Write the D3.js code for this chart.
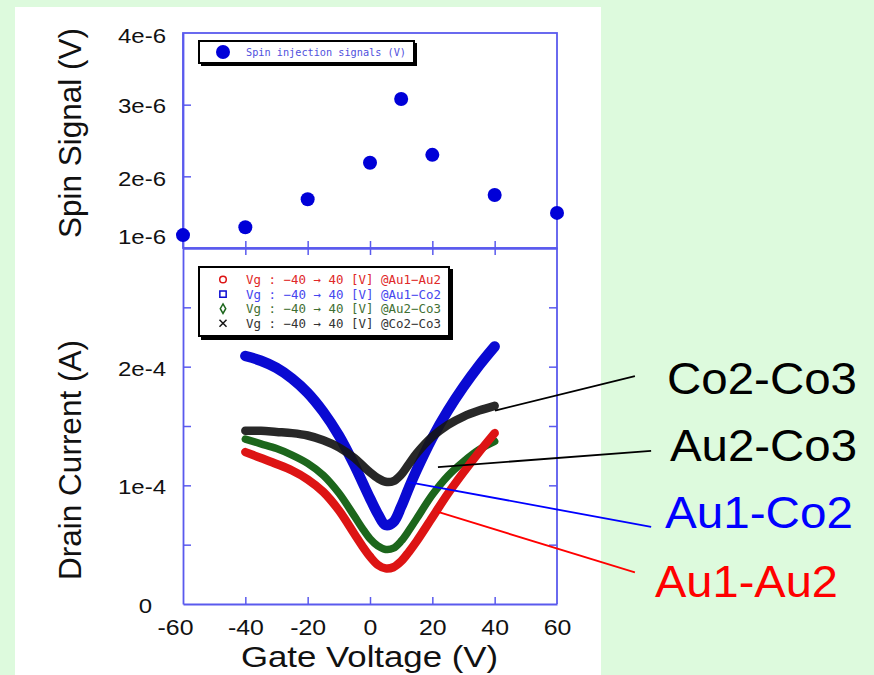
<!DOCTYPE html>
<html>
<head>
<meta charset="utf-8">
<script src="https://cdn.jsdelivr.net/npm/d3@7"></script>
<style>
  body { margin: 0; background: #ddfadd; }
  svg { display: block; }
</style>
</head>
<body>
<svg id="chart" width="874" height="675"></svg>
<script>
// ---- spin injection signal vs gate voltage ----
const spinVg = [-60, -40, -20, 0, 10, 20, 40, 60];
const spinSignal = [1.18e-6, 1.29e-6, 1.68e-6, 2.19e-6, 3.08e-6, 2.30e-6, 1.74e-6, 1.49e-6];

// ---- drain current sweeps, Vg from -40 to 40 V ----
const gateVoltage = [-40, -35, -30, -25, -20, -15, -10, -5, -2.5, 0, 2.5, 5, 7.5, 10, 12.5, 15, 20, 25, 30, 35, 40];
const currentAu1Au2 = [1.28e-4, 1.23e-4, 1.18e-4, 1.125e-4, 1.05e-4, 0.945e-4, 0.79e-4, 0.59e-4, 0.49e-4, 0.40e-4, 0.33e-4, 0.30e-4, 0.31e-4, 0.36e-4, 0.44e-4, 0.53e-4, 0.73e-4, 0.93e-4, 1.11e-4, 1.28e-4, 1.44e-4];
const currentAu1Co2 = [2.09e-4, 2.05e-4, 1.99e-4, 1.90e-4, 1.78e-4, 1.62e-4, 1.42e-4, 1.17e-4, 1.03e-4, 0.89e-4, 0.76e-4, 0.665e-4, 0.69e-4, 0.82e-4, 0.98e-4, 1.13e-4, 1.40e-4, 1.63e-4, 1.83e-4, 2.01e-4, 2.17e-4];
const currentAu2Co3 = [1.39e-4, 1.35e-4, 1.31e-4, 1.255e-4, 1.185e-4, 1.085e-4, 0.935e-4, 0.74e-4, 0.64e-4, 0.55e-4, 0.49e-4, 0.46e-4, 0.47e-4, 0.53e-4, 0.62e-4, 0.72e-4, 0.92e-4, 1.08e-4, 1.20e-4, 1.30e-4, 1.37e-4];
const currentCo2Co3 = [1.46e-4, 1.46e-4, 1.45e-4, 1.44e-4, 1.42e-4, 1.38e-4, 1.32e-4, 1.23e-4, 1.17e-4, 1.11e-4, 1.06e-4, 1.03e-4, 1.035e-4, 1.09e-4, 1.18e-4, 1.27e-4, 1.41e-4, 1.51e-4, 1.58e-4, 1.63e-4, 1.67e-4];

// ---- axis ticks ----
const gateTicks = [-60, -40, -20, 0, 20, 40, 60];
const spinTicks = [1e-6, 2e-6, 3e-6, 4e-6];
const spinTickLabels = ["1e-6", "2e-6", "3e-6", "4e-6"];
const currentTicks = [0, 0.5e-4, 1e-4, 1.5e-4, 2e-4, 2.5e-4];
const currentLabelled = [0, 1e-4, 2e-4];
const currentTickLabels = ["0", "1e-4", "2e-4"];

// ---- legend text and callout names ----
const spinLegend = "Spin injection signals (V)";
const sweepNames = ["Au1-Au2", "Au1-Co2", "Au2-Co3", "Co2-Co3"];
const sweepLegend = [
  "Vg : \u221240 \u2192 40 [V] @Au1\u2212Au2",
  "Vg : \u221240 \u2192 40 [V] @Au1\u2212Co2",
  "Vg : \u221240 \u2192 40 [V] @Au2\u2212Co3",
  "Vg : \u221240 \u2192 40 [V] @Co2\u2212Co3"
];
// callout anchor on each curve and where the leader line ends (Vg in V, current in A)
const calloutFrom = [[21.8, 0.776e-4], [11.9, 1.03e-4], [21.8, 1.154e-4], [40.1, 1.63e-4]];
const calloutTo   = [[85, 0.266e-4], [90.2, 0.65e-4], [90.2, 1.29e-4], [85, 1.92e-4]];

// ---- layout & style ----
const AXIS = "#5a5aee";
const FONT = "'Liberation Sans', Arial, sans-serif";
const MONO = "'DejaVu Sans Mono', monospace";
const plot = { left: 183, right: 557, top: 33, mid: 248, bottom: 604 };
const seriesStyle = [
  { color: "#dd1414", width: 8.5, legendText: "#e02828", symbol: d3.symbolCircle, size: 34 },
  { color: "#0a0ad2", width: 10.5, legendText: "#4646ee", symbol: d3.symbolSquare, size: 40 },
  { color: "#1c661c", width: 7.5, legendText: "#3f6f33", symbol: d3.symbolDiamond, size: 26 },
  { color: "#161616", width: 8.5, legendText: "#333333", symbol: d3.symbolTimes, size: 34 }
];
const drawOrder = [2, 0, 1, 3];
const labelStyle = [
  { x: 655, y: 597, w: 183, color: "#ff0000" },
  { x: 665, y: 528, w: 188, color: "#0000ff" },
  { x: 670, y: 461, w: 187, color: "#000000" },
  { x: 667, y: 394, w: 190, color: "#000000" }
];

const svg = d3.select("#chart");

// page background and white panel
svg.append("rect").attr("width", 874).attr("height", 675).attr("fill", "#ddfadd");
svg.append("rect").attr("x", 15).attr("y", 7).attr("width", 586).attr("height", 668).attr("fill", "#ffffff");

// scales
const x = d3.scaleLinear().domain([-60, 60]).range([plot.left, plot.right]);
const ySpin = d3.scaleLinear().domain([1e-6, 4e-6]).range([plot.mid, plot.top]);
const yCur = d3.scaleLinear().domain([0, 3e-4]).range([plot.bottom, plot.mid]);

// stretch text horizontally about its anchor
function stretch(sel, k) {
  sel.each(function () {
    const t = d3.select(this);
    const tx = +t.attr("x") || 0, ty = +t.attr("y") || 0;
    t.attr("transform", `translate(${tx},${ty}) scale(${k},1)`).attr("x", 0).attr("y", 0);
  });
}
function styleAxis(g) {
  g.selectAll("path.domain").attr("stroke", AXIS).attr("stroke-width", 1.8);
  g.selectAll(".tick line").attr("stroke", AXIS).attr("stroke-width", 1.5);
  g.selectAll(".tick text").attr("fill", "#111").attr("font-family", FONT);
}

// ---------------- upper panel ----------------
svg.append("rect")
  .attr("x", plot.left).attr("y", plot.top)
  .attr("width", plot.right - plot.left).attr("height", plot.mid - plot.top)
  .attr("fill", "none").attr("stroke", AXIS).attr("stroke-width", 1.8);

const spinAxis = svg.append("g").attr("transform", `translate(${plot.left},0)`)
  .call(d3.axisLeft(ySpin).tickValues(spinTicks).tickSizeInner(-8).tickSizeOuter(0)
    .tickFormat((d, i) => spinTickLabels[i]));
styleAxis(spinAxis);
const spinNudge = { "1e-6": -12, "4e-6": 2, "2e-6": 2, "3e-6": 0.5 };
spinAxis.selectAll(".tick text")
  .attr("x", -17).attr("font-size", 20)
  .attr("y", function () { return spinNudge[d3.select(this).text()] || 0; })
  .attr("dy", "0.35em");
stretch(spinAxis.selectAll(".tick text"), 1.2);
spinAxis.selectAll(".tick").filter(d => d === 1e-6 || d === 4e-6).select("line").remove();

// shared axis between the panels: ticks both ways
svg.append("g").attr("transform", `translate(0,${plot.mid})`)
  .call(d3.axisTop(x).tickValues(gateTicks.slice(1, -1)).tickSizeInner(7).tickSizeOuter(0).tickFormat(""))
  .call(styleAxis);
svg.append("g").attr("transform", `translate(0,${plot.mid})`)
  .call(d3.axisBottom(x).tickValues(gateTicks.slice(1, -1)).tickSizeInner(7).tickSizeOuter(0).tickFormat(""))
  .call(styleAxis);

// spin points
svg.append("g").selectAll("circle")
  .data(spinVg.map((v, i) => [v, spinSignal[i]]))
  .join("circle")
  .attr("cx", d => x(d[0])).attr("cy", d => ySpin(d[1]))
  .attr("r", 7).attr("fill", "#0000d8");

// upper legend
const lg1 = svg.append("g");
lg1.append("rect").attr("x", 201).attr("y", 43).attr("width", 216).attr("height", 23).attr("fill", "#000");
lg1.append("rect").attr("x", 199).attr("y", 41).attr("width", 215).attr("height", 22)
  .attr("fill", "#fff").attr("stroke", "#000").attr("stroke-width", 2);
lg1.append("circle").attr("cx", 223).attr("cy", 52).attr("r", 7).attr("fill", "#0000d8");
lg1.append("text").attr("x", 246).attr("y", 56)
  .attr("font-family", MONO).attr("font-size", 10.5).attr("fill", "#5050dd")
  .attr("textLength", 160).attr("lengthAdjust", "spacingAndGlyphs")
  .text(spinLegend);

// ---------------- lower panel ----------------
svg.append("line")
  .attr("x1", plot.right).attr("x2", plot.right).attr("y1", plot.mid).attr("y2", plot.bottom)
  .attr("stroke", AXIS).attr("stroke-width", 1.8);

const gateAxis = svg.append("g").attr("transform", `translate(0,${plot.bottom})`)
  .call(d3.axisBottom(x).tickValues(gateTicks).tickSizeInner(-7).tickSizeOuter(0).tickFormat(d3.format("d")));
styleAxis(gateAxis);
gateAxis.selectAll(".tick text").attr("font-size", 22).attr("dy", 0)
  .attr("y", 31)
  .attr("x", d => d === -60 ? -8 : 0)
  .text(d => String(d));
stretch(gateAxis.selectAll(".tick text"), 1.13);
gateAxis.selectAll(".tick").filter(d => d === -60 || d === 60).select("line").remove();

const curAxis = svg.append("g").attr("transform", `translate(${plot.left},0)`)
  .call(d3.axisLeft(yCur).tickValues(currentTicks).tickSizeInner(-8).tickSizeOuter(0)
    .tickFormat(d => {
      const i = currentLabelled.findIndex(v => Math.abs(v - d) < 1e-9);
      return i >= 0 ? currentTickLabels[i] : "";
    }));
styleAxis(curAxis);
curAxis.selectAll(".tick text").attr("font-size", 20).attr("dy", "0.35em")
  .attr("x", function () { return d3.select(this).text() === "0" ? -31 : -17; })
  .attr("y", 1.5);
stretch(curAxis.selectAll(".tick text"), 1.2);
curAxis.selectAll(".tick").filter(d => d === 0).select("line").remove();

svg.append("g").attr("transform", `translate(${plot.right},0)`)
  .call(d3.axisRight(yCur).tickValues(currentTicks.slice(1)).tickSizeInner(-8).tickSizeOuter(0).tickFormat(""))
  .call(styleAxis)
  .select("path.domain").remove();

// current sweeps
const sweeps = [currentAu1Au2, currentAu1Co2, currentAu2Co3, currentCo2Co3];
const line = d3.line()
  .x(d => x(d[0])).y(d => yCur(d[1]))
  .curve(d3.curveCatmullRom.alpha(0.5));
const curves = svg.append("g");
drawOrder.forEach(i => {
  const pts = gateVoltage.map((v, j) => [v, sweeps[i][j]]);
  curves.append("path")
    .attr("d", line(pts))
    .attr("fill", "none")
    .attr("stroke", seriesStyle[i].color)
    .attr("stroke-width", seriesStyle[i].width)
    .attr("stroke-linecap", "round").attr("stroke-linejoin", "round")
    .attr("stroke-opacity", i === 3 ? 0.92 : 1);
});

// lower legend
const lg2 = svg.append("g");
lg2.append("rect").attr("x", 201).attr("y", 269).attr("width", 252).attr("height", 71).attr("fill", "#000");
lg2.append("rect").attr("x", 199).attr("y", 267).attr("width", 250).attr("height", 69)
  .attr("fill", "#fff").attr("stroke", "#000").attr("stroke-width", 2);
sweepLegend.forEach((t, i) => {
  const cy = 279.5 + i * 14.6;
  const st = seriesStyle[i];
  lg2.append("path")
    .attr("transform", `translate(223,${cy})`)
    .attr("d", d3.symbol().type(st.symbol).size(st.size)())
    .attr("fill", "none").attr("stroke", st.color).attr("stroke-width", 1.5);
  lg2.append("text").attr("x", 246).attr("y", cy + 4.5)
    .attr("font-family", MONO).attr("font-size", 12.5).attr("fill", st.legendText)
    .attr("textLength", 195).attr("lengthAdjust", "spacingAndGlyphs")
    .text(t);
});

// callouts naming each sweep
const callouts = svg.append("g");
sweepNames.forEach((name, i) => {
  callouts.append("line")
    .attr("x1", x(calloutFrom[i][0])).attr("y1", yCur(calloutFrom[i][1]))
    .attr("x2", x(calloutTo[i][0])).attr("y2", yCur(calloutTo[i][1]))
    .attr("stroke", labelStyle[i].color).attr("stroke-width", 1.8);
  callouts.append("text")
    .attr("x", labelStyle[i].x).attr("y", labelStyle[i].y)
    .attr("font-family", FONT).attr("font-size", 44)
    .attr("fill", labelStyle[i].color)
    .attr("textLength", labelStyle[i].w).attr("lengthAdjust", "spacingAndGlyphs")
    .text(name);
});

// axis titles
svg.append("text")
  .attr("transform", "translate(81,133) rotate(-90)")
  .attr("text-anchor", "middle").attr("font-family", FONT).attr("font-size", 31.5).attr("fill", "#111")
  .text("Spin Signal (V)");
svg.append("text")
  .attr("transform", "translate(81,460) rotate(-90)")
  .attr("text-anchor", "middle").attr("font-family", FONT).attr("font-size", 31.5).attr("fill", "#111")
  .text("Drain Current (A)");
const xt = svg.append("text")
  .attr("x", 369.5).attr("y", 667)
  .attr("text-anchor", "middle").attr("font-family", FONT).attr("font-size", 30).attr("fill", "#111")
  .text("Gate Voltage (V)");
stretch(xt, 1.16);
</script>
</body>
</html>
